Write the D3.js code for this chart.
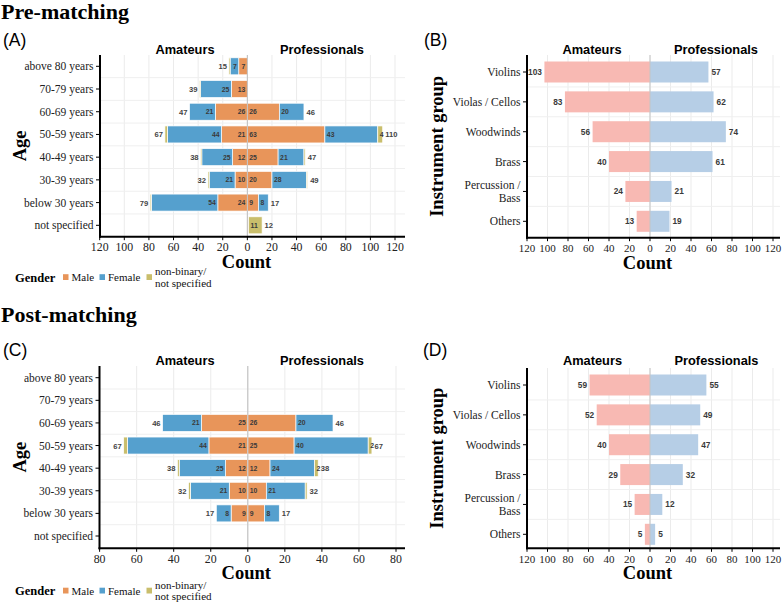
<!DOCTYPE html>
<html><head><meta charset="utf-8">
<script src="https://cdn.jsdelivr.net/npm/d3@7"></script>
<style>body{margin:0;background:#fff}svg{display:block}</style>
</head><body>
<svg id="c" width="782" height="603"></svg>
<script>
// ---------- DATA ----------
const ageCats = ["above 80 years","70-79 years","60-69 years","50-59 years","40-49 years","30-39 years","below 30 years","not specified"];
// Pre-matching (A)
const preAmMale     = [7,13,26,21,12,10,24,0];
const preAmFemale   = [7,25,21,44,25,21,54,0];
const preAmNB       = [1,1,0,2,1,1,1,0];
const preProMale    = [0,0,26,63,25,20,9,1];
const preProFemale  = [0,0,20,43,21,28,8,0];
const preProNB      = [0,0,0,4,1,1,0,11];
// Post-matching (C)
const postAmMale    = [0,0,25,21,12,10,9,0];
const postAmFemale  = [0,0,21,44,25,21,8,0];
const postAmNB      = [0,0,0,2,1,1,0,0];
const postProMale   = [0,0,26,25,12,10,9,0];
const postProFemale = [0,0,20,40,24,21,8,0];
const postProNB     = [0,0,0,2,2,1,0,0];

const instCats = ["Violins","Violas / Cellos","Woodwinds","Brass","Percussion / Bass","Others"];
const preInstAm   = [103,83,56,40,24,13];
const preInstPro  = [57,62,74,61,21,19];
const postInstAm  = [59,52,40,29,15,5];
const postInstPro = [55,49,47,32,12,5];

const ticksAgePre  = [-120,-100,-80,-60,-40,-20,0,20,40,60,80,100,120];
const ticksAgePost = [-80,-60,-40,-20,0,20,40,60,80];
const ticksInst    = [-120,-100,-80,-60,-40,-20,0,20,40,60,80,100,120];

const genderKeys = ["Male","Female","NB"];
const genderLegend = ["Male","Female","non-binary/\nnot specified"];
const genderColors = {Male:"#E8955A", Female:"#55A0CE", NB:"#C9BE6C"};
const instColors = {am:"#F8B9B3", pro:"#B6CEE6"};

// ---------- HELPERS ----------
const svg = d3.select("#c");
const SERIF = "'Liberation Serif','Times New Roman',serif";
const SANS = "'Liberation Sans',Arial,sans-serif";

function text(g, x, y, s, o) {
  const t = g.append("text").attr("x", x).attr("y", y).text(s);
  for (const k in o) t.attr(k, o[k]);
  return t;
}

function frame(cfg, x, y) {
  const g = svg.append("g");
  g.selectAll(".vg").data(cfg.ticks).join("line")
    .attr("x1", d => x(d)).attr("x2", d => x(d))
    .attr("y1", cfg.top).attr("y2", cfg.axisY)
    .attr("stroke", "#ebebeb").attr("stroke-width", 1);
  const cats = y.domain();
  const mids = [];
  for (let i = 0; i < cats.length - 1; i++) mids.push((y(cats[i]) + y(cats[i+1])) / 2);
  g.selectAll(".hg").data(mids).join("line")
    .attr("x1", cfg.left).attr("x2", cfg.right)
    .attr("y1", d => d).attr("y2", d => d)
    .attr("stroke", "#efefef").attr("stroke-width", 1);
  return g;
}

function axes(g, cfg, x, y, tickFont, catLabel) {
  const xa = g.append("g");
  xa.selectAll("line").data(cfg.ticks).join("line")
    .attr("x1", d => x(d)).attr("x2", d => x(d))
    .attr("y1", cfg.axisY).attr("y2", cfg.axisY + 3.5)
    .attr("stroke", "#000").attr("stroke-width", 1);
  xa.selectAll("text").data(cfg.ticks).join("text")
    .attr("x", d => x(d)).attr("y", cfg.axisY + 14.5)
    .attr("text-anchor", "middle").attr("font-family", SERIF)
    .attr("font-size", tickFont).attr("fill", "#222")
    .text(d => Math.abs(d));
  const ya = g.append("g");
  ya.selectAll("line").data(y.domain()).join("line")
    .attr("x1", cfg.left - 4).attr("x2", cfg.left)
    .attr("y1", d => y(d)).attr("y2", d => y(d))
    .attr("stroke", "#000").attr("stroke-width", 1);
  y.domain().forEach(d => {
    const lines = catLabel(d);
    const t = ya.append("text").attr("text-anchor", "end")
      .attr("font-family", SERIF).attr("font-size", 11.5).attr("fill", "#222");
    const lh = 12.6;
    lines.forEach((ln, i) => {
      t.append("tspan").attr("x", cfg.left - 6.5)
        .attr("y", y(d) + 4 + (i - (lines.length - 1) / 2) * lh).text(ln);
    });
  });
  g.append("line").attr("x1", cfg.left).attr("x2", cfg.left)
    .attr("y1", cfg.top).attr("y2", cfg.axisY + 1)
    .attr("stroke", "#000").attr("stroke-width", 2);
  g.append("line").attr("x1", cfg.left - 1).attr("x2", cfg.right)
    .attr("y1", cfg.axisY).attr("y2", cfg.axisY)
    .attr("stroke", "#000").attr("stroke-width", 2);
  text(g, (cfg.left + cfg.right) / 2 - 6, cfg.axisY + 31, "Count",
    {"text-anchor":"middle","font-family":SERIF,"font-size":18.5,"font-weight":"bold","fill":"#000"});
  const ty = (cfg.top + cfg.axisY) / 2;
  text(g, 0, 0, cfg.yTitle,
    {"text-anchor":"middle","font-family":SERIF,"font-size":18.5,"font-weight":"bold","fill":"#000",
     "transform":`translate(${cfg.yTitleX},${ty}) rotate(-90)`});
  text(g, cfg.hdrAmX, cfg.hdrY, "Amateurs",
    {"text-anchor":"middle","font-family":SANS,"font-size":12.8,"font-weight":"bold","fill":"#000"});
  text(g, cfg.hdrProX, cfg.hdrY, "Professionals",
    {"text-anchor":"middle","font-family":SANS,"font-size":12.8,"font-weight":"bold","fill":"#000"});
}

function drawAge(cfg) {
  const x = d3.scaleLinear().domain(cfg.xDomain).range(cfg.xRange);
  const y = d3.scalePoint().domain(ageCats).range([cfg.firstY, cfg.lastY]);
  const g = frame(cfg, x, y);
  const bh = cfg.barH;
  const segs = [];
  ageCats.forEach((c, i) => {
    let acc = 0;
    const am = {Male: cfg.amM[i], Female: cfg.amF[i], NB: cfg.amN[i]};
    genderKeys.forEach(k => {
      const v = am[k];
      if (v > 0) segs.push({c, k, side: "am", x0: -acc - v, x1: -acc, v});
      acc += v;
    });
    const amTot = acc;
    acc = 0;
    const pr = {Male: cfg.prM[i], Female: cfg.prF[i], NB: cfg.prN[i]};
    genderKeys.forEach(k => {
      const v = pr[k];
      if (v > 0) segs.push({c, k, side: "pro", x0: acc, x1: acc + v, v});
      acc += v;
    });
    const prTot = acc;
    if (amTot > 0) segs.push({c, tot: amTot, side: "am"});
    if (prTot > 0) segs.push({c, tot: prTot, side: "pro"});
  });
  const bars = segs.filter(s => s.k);
  g.selectAll(".bar").data(bars).join("rect")
    .attr("x", d => x(d.x0)).attr("width", d => x(d.x1) - x(d.x0))
    .attr("y", d => y(d.c) - bh / 2).attr("height", bh)
    .attr("fill", d => genderColors[d.k])
    .attr("stroke", "#fff").attr("stroke-width", 0.7);
  g.append("line").attr("x1", x(0)).attr("x2", x(0))
    .attr("y1", cfg.top).attr("y2", cfg.axisY)
    .attr("stroke", "#bdbdbd").attr("stroke-width", 1);
  const lab = bars.filter(d => d.v >= 2 && !(d.k === "NB" && d.side === "am"));
  g.selectAll(".sl").data(lab).join("text")
    .attr("x", d => d.side === "am" ? x(d.x1) - 2 : x(d.x0) + 2)
    .attr("y", d => y(d.c) + 2.5)
    .attr("text-anchor", d => d.side === "am" ? "end" : "start")
    .attr("font-family", SANS).attr("font-size", 6.8).attr("font-weight", "bold")
    .attr("fill", "#3a3a3a").text(d => d.v);
  const tots = segs.filter(s => s.tot);
  g.selectAll(".tl").data(tots).join("text")
    .attr("x", d => d.side === "am" ? x(-d.tot) - 2 : x(d.tot) + 2.5)
    .attr("y", d => y(d.c) + 3)
    .attr("text-anchor", d => d.side === "am" ? "end" : "start")
    .attr("font-family", SANS).attr("font-size", 7.6).attr("font-weight", "bold")
    .attr("fill", "#444").text(d => d.tot);
  axes(g, cfg, x, y, 11.8, d => [d]);
  const lg = svg.append("g").attr("transform", `translate(0,${cfg.legY})`);
  text(lg, 15, 4.5, "Gender", {"font-family":SERIF,"font-size":12.5,"font-weight":"bold","fill":"#000"});
  const lx = [63, 99.5, 146.5];
  genderKeys.forEach((k, i) => {
    lg.append("rect").attr("x", lx[i]).attr("y", -2.8).attr("width", 5.5).attr("height", 5.8)
      .attr("fill", genderColors[k]);
    const lines = genderLegend[i].split("\n");
    const t = lg.append("text").attr("font-family", SERIF).attr("font-size", 11).attr("fill", "#111");
    lines.forEach((ln, j) => t.append("tspan").attr("x", lx[i] + 8.5)
      .attr("y", 4 + (j - (lines.length - 1) / 2) * 11.5).text(ln));
  });
}

function drawInst(cfg) {
  const x = d3.scaleLinear().domain(cfg.xDomain).range(cfg.xRange);
  const y = d3.scalePoint().domain(instCats).range([cfg.firstY, cfg.lastY]);
  const g = frame(cfg, x, y);
  const bh = cfg.barH;
  const data = instCats.map((c, i) => ({c, am: cfg.am[i], pro: cfg.pro[i]}));
  g.selectAll(".ba").data(data).join("rect")
    .attr("x", d => x(-d.am)).attr("width", d => x(0) - x(-d.am))
    .attr("y", d => y(d.c) - bh / 2).attr("height", bh).attr("fill", instColors.am);
  g.selectAll(".bp").data(data).join("rect")
    .attr("x", x(0)).attr("width", d => x(d.pro) - x(0))
    .attr("y", d => y(d.c) - bh / 2).attr("height", bh).attr("fill", instColors.pro);
  g.append("line").attr("x1", x(0)).attr("x2", x(0))
    .attr("y1", cfg.top).attr("y2", cfg.axisY)
    .attr("stroke", "#c4c4c4").attr("stroke-width", 1);
  g.selectAll(".la").data(data).join("text")
    .attr("x", d => x(-d.am) - 2.5).attr("y", d => y(d.c) + 3)
    .attr("text-anchor", "end").attr("font-family", SANS).attr("font-size", 8.3)
    .attr("font-weight", "bold").attr("fill", "#3a3a3a").text(d => d.am);
  g.selectAll(".lp").data(data).join("text")
    .attr("x", d => x(d.pro) + 3).attr("y", d => y(d.c) + 3)
    .attr("text-anchor", "start").attr("font-family", SANS).attr("font-size", 8.3)
    .attr("font-weight", "bold").attr("fill", "#3a3a3a").text(d => d.pro);
  axes(g, cfg, x, y, 11, d => d === "Percussion / Bass" ? ["Percussion /", "Bass"] : [d]);
}

// ---------- TITLES ----------
text(svg, 1, 18.5, "Pre-matching", {"font-family":SERIF,"font-size":22,"font-weight":"bold","fill":"#000"});
text(svg, 1, 321.5, "Post-matching", {"font-family":SERIF,"font-size":22,"font-weight":"bold","fill":"#000"});
text(svg, 3, 46, "(A)", {"font-family":SANS,"font-size":17.5,"fill":"#000"});
text(svg, 424, 46, "(B)", {"font-family":SANS,"font-size":17.5,"fill":"#000"});
text(svg, 3, 355.5, "(C)", {"font-family":SANS,"font-size":17.5,"fill":"#000"});
text(svg, 423, 356, "(D)", {"font-family":SANS,"font-size":17.5,"fill":"#000"});

// ---------- PANELS ----------
drawAge({xDomain:[-120,120], xRange:[99.7,395], ticks:ticksAgePre,
  firstY:66.3, lastY:225.3, top:55, axisY:236.7, left:100, right:405, barH:17,
  amM:preAmMale, amF:preAmFemale, amN:preAmNB, prM:preProMale, prF:preProFemale, prN:preProNB,
  yTitle:"Age", yTitleX:26, hdrAmX:185, hdrProX:322, hdrY:54, legY:277});

drawAge({xDomain:[-80,80], xRange:[99.6,396], ticks:ticksAgePost,
  firstY:377.7, lastY:536, top:366, axisY:548.3, left:99.5, right:405, barH:17,
  amM:postAmMale, amF:postAmFemale, amN:postAmNB, prM:postProMale, prF:postProFemale, prN:postProNB,
  yTitle:"Age", yTitleX:26, hdrAmX:185, hdrProX:322, hdrY:365, legY:590.5});

drawInst({xDomain:[-120,120], xRange:[527,773], ticks:ticksInst,
  firstY:72, lastY:221.3, top:55, axisY:237.7, left:527, right:780, barH:21,
  am:preInstAm, pro:preInstPro,
  yTitle:"Instrument group", yTitleX:443, hdrAmX:592, hdrProX:716, hdrY:54});

drawInst({xDomain:[-120,120], xRange:[527,773], ticks:ticksInst,
  firstY:385, lastY:534.3, top:368, axisY:548.3, left:527, right:780, barH:21,
  am:postInstAm, pro:postInstPro,
  yTitle:"Instrument group", yTitleX:443, hdrAmX:592.5, hdrProX:716.5, hdrY:365});
</script>
</body></html>
